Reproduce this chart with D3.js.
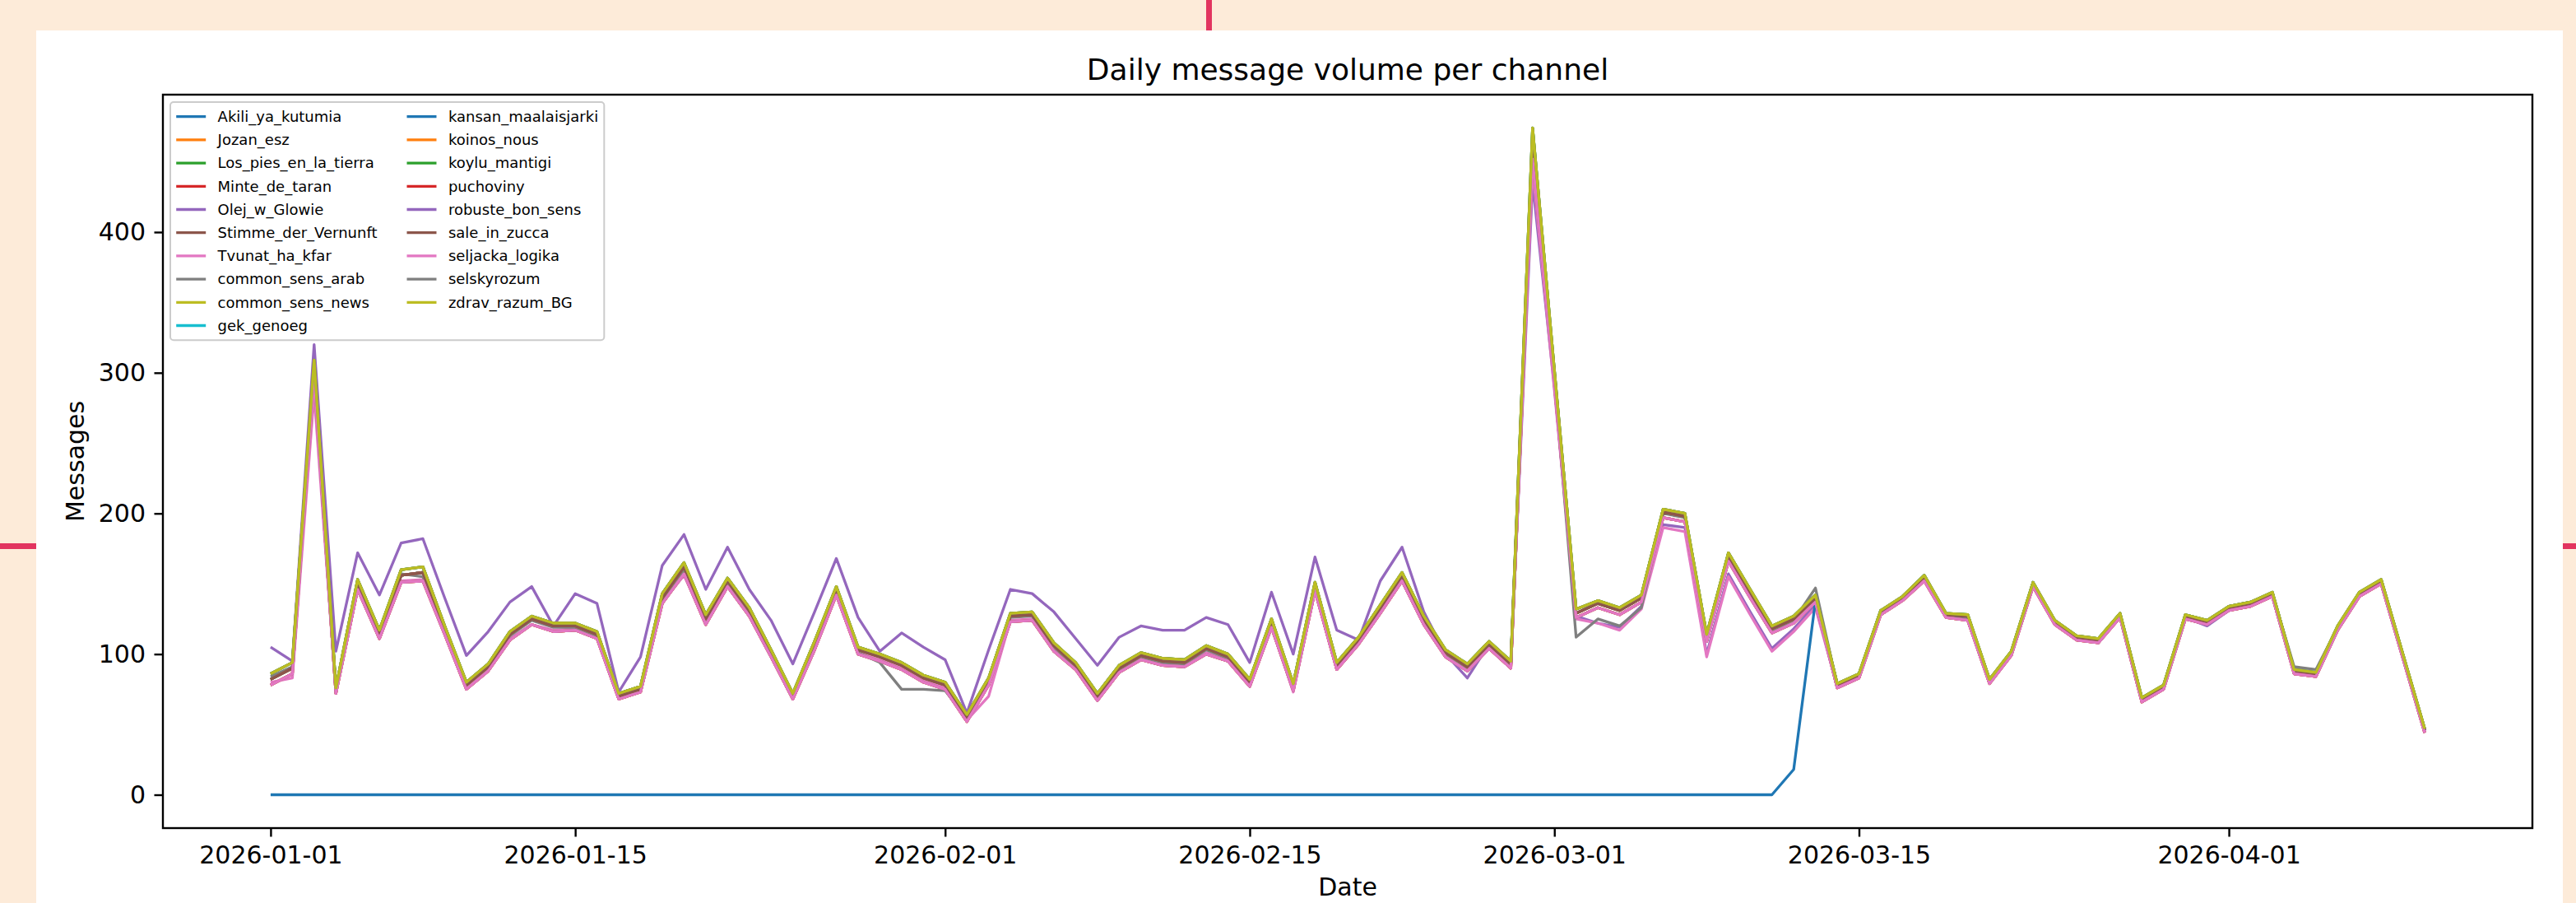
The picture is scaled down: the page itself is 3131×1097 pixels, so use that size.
<!DOCTYPE html>
<meta charset="utf-8">
<script src="https://cdn.jsdelivr.net/npm/d3@7"></script>
<style>
body { margin: 0; background: #fdebd9; }
text { font-family: "DejaVu Sans", sans-serif; fill: #000; }
</style>
<body>
<div id="chart"></div>
<script>
var startDay = "2026-01-01", endDay = "2026-04-10"

var channels = ["Akili_ya_kutumia", "Jozan_esz", "Los_pies_en_la_tierra", "Minte_de_taran", "Olej_w_Glowie",
  "Stimme_der_Vernunft", "Tvunat_ha_kfar", "common_sens_arab", "common_sens_news", "gek_genoeg",
  "kansan_maalaisjarki", "koinos_nous", "koylu_mantigi", "puchoviny", "robuste_bon_sens",
  "sale_in_zucca", "seljacka_logika", "selskyrozum", "zdrav_razum_BG"]

// middle of the bundle
var bandMid = [82, 90, 306, 74, 150, 114, 156, 158, 118, 78,
  91, 114, 125, 120, 120, 114, 70, 75, 140, 162,
  125, 152, 131, 101, 70, 107, 146, 103, 98, 92,
  83, 78, 55, 81, 127, 128, 106, 92, 70, 90,
  99, 95, 94, 104, 98, 80, 123, 77, 149, 92,
  110, 133, 156, 125, 101, 91, 107, 93, 466, 300,
  129, 136, 131, 140, 201, 198, 112, 170, 144, 118,
  125, 140, 78, 85, 130, 140, 155, 128, 127, 81,
  101, 150, 123, 112, 110, 128, 68, 77, 127, 123,
  133, 136, 143, 88, 86, 119, 143, 152, 99, 46]

// upper edge of the bundle
var bandHigh = [86, 94, 309, 76, 153, 117, 160, 162, 120, 80,
  93, 116, 127, 122, 122, 116, 72, 77, 143, 165,
  128, 154, 133, 103, 72, 109, 148, 105, 100, 94,
  85, 80, 57, 83, 129, 130, 108, 94, 72, 92,
  101, 97, 96, 106, 100, 82, 125, 79, 151, 94,
  112, 135, 158, 127, 103, 93, 109, 95, 474, 302,
  132, 138, 133, 142, 203, 200, 114, 172, 146, 120,
  127, 142, 79, 86, 131, 141, 156, 129, 128, 82,
  102, 151, 124, 113, 111, 129, 69, 78, 128, 124,
  134, 137, 144, 89, 87, 120, 144, 153, 100, 47]

// lower edge of the bundle
var bandLow = [78, 86, 296, 72, 146, 111, 151, 152, 114, 75,
  88, 110, 121, 116, 117, 111, 68, 73, 136, 157,
  121, 148, 127, 98, 68, 103, 142, 100, 95, 89,
  80, 75, 52, 78, 123, 124, 102, 89, 67, 87,
  96, 92, 91, 100, 95, 77, 119, 74, 145, 89,
  107, 129, 152, 121, 98, 88, 104, 90, 452, 292,
  126, 133, 128, 137, 197, 194, 109, 166, 140, 115,
  122, 137, 76, 83, 128, 138, 152, 126, 124, 79,
  99, 148, 121, 110, 108, 126, 66, 75, 125, 121,
  131, 134, 141, 86, 84, 117, 141, 150, 97, 44]

var olejVals = [105, 95, 320, 102, 172, 142, 179, 182, 140, 99,
  116, 137, 148, 120, 143, 136, 73, 98, 163, 185,
  146, 176, 146, 124, 93, 130, 168, 126, 102, 115,
  105, 96, 58, 103, 146, 143, 130, 111, 92, 112,
  120, 117, 117, 126, 121, 94, 144, 100, 169, 117,
  110, 152, 176, 130, 100, 83, 107, 93, 435, 290,
  127, 122, 119, 134, 192, 190, 100, 157, 130, 104,
  118, 135, 77, 84, 129, 139, 154, 127, 125, 80,
  100, 150, 122, 111, 108, 127, 67, 76, 126, 120,
  131, 135, 142, 87, 85, 118, 142, 151, 98, 45]

var tvunatVals = [80, 83, 285, 73, 147, 112, 152, 153, 115, 76,
  89, 111, 121, 117, 118, 112, 69, 74, 137, 156,
  122, 148, 128, 99, 69, 104, 143, 101, 96, 90,
  81, 76, 53, 70, 124, 125, 103, 90, 67, 88,
  96, 93, 92, 101, 96, 78, 120, 73, 145, 90,
  108, 130, 152, 122, 98, 88, 105, 91, 445, 288,
  125, 122, 117, 132, 190, 187, 98, 155, 128, 102,
  116, 133, 77, 84, 129, 139, 154, 127, 125, 80,
  100, 149, 122, 111, 109, 127, 67, 76, 126, 122,
  132, 135, 142, 87, 85, 118, 142, 151, 98, 45]

var arabVals = [84, 91, 303, 75, 151, 115, 157, 155, 117, 78,
  90, 113, 124, 119, 119, 113, 71, 76, 139, 160,
  124, 151, 130, 100, 70, 106, 145, 101, 94, 75,
  75, 74, 54, 80, 126, 127, 105, 91, 70, 89,
  98, 94, 93, 103, 97, 79, 122, 76, 148, 91,
  109, 132, 155, 124, 100, 90, 106, 92, 460, 296,
  112, 125, 120, 133, 200, 197, 111, 169, 143, 117,
  124, 147, 78, 85, 130, 140, 155, 128, 126, 81,
  101, 150, 123, 112, 110, 128, 68, 77, 127, 123,
  134, 137, 143, 91, 89, 119, 143, 152, 99, 46]

var kansanVals = [0, 0, 0, 0, 0, 0, 0, 0, 0, 0,
  0, 0, 0, 0, 0, 0, 0, 0, 0, 0,
  0, 0, 0, 0, 0, 0, 0, 0, 0, 0,
  0, 0, 0, 0, 0, 0, 0, 0, 0, 0,
  0, 0, 0, 0, 0, 0, 0, 0, 0, 0,
  0, 0, 0, 0, 0, 0, 0, 0, 0, 0,
  0, 0, 0, 0, 0, 0, 0, 0, 0, 0,
  18, 138, 77, 85, 131, 140, 156, 128, 127, 81,
  101, 151, 123, 112, 110, 128, 68, 77, 127, 123,
  133, 136, 143, 88, 86, 119, 143, 152, 99, 46]

var channelValues = {
  Akili_ya_kutumia: bandMid, Jozan_esz: bandLow, Los_pies_en_la_tierra: bandHigh, Minte_de_taran: bandLow,
  Olej_w_Glowie: olejVals, Stimme_der_Vernunft: bandMid, Tvunat_ha_kfar: tvunatVals,
  common_sens_arab: arabVals, common_sens_news: bandMid, gek_genoeg: bandMid,
  kansan_maalaisjarki: kansanVals, koinos_nous: bandLow, koylu_mantigi: bandHigh, puchoviny: bandMid,
  robuste_bon_sens: bandLow, sale_in_zucca: bandMid, seljacka_logika: bandLow,
  selskyrozum: bandHigh, zdrav_razum_BG: bandHigh
}

var yTickVals = [0, 100, 200, 300, 400]
var xTickLabels = ["2026-01-01", "2026-01-15", "2026-02-01", "2026-02-15", "2026-03-01", "2026-03-15", "2026-04-01"]
var colors = ["#1f77b4", "#ff7f0e", "#2ca02c", "#d62728", "#9467bd", "#8c564b", "#e377c2", "#7f7f7f", "#bcbd22", "#17becf"]

var W = 3131, H = 1097
var plot = {left: 198, right: 3078, top: 115, bottom: 1006}

var parseDay = d3.timeParse("%Y-%m-%d")
var dates = d3.timeDay.range(parseDay(startDay), d3.timeDay.offset(parseDay(endDay), 1))

var series = channels.map(function(name, i){
  return {name: name, color: colors[i % 10],
    points: channelValues[name].map(function(v, j){ return {date: dates[j], value: v} })}
})

var svg = d3.select("#chart").append("svg")
  .attr("width", W)
  .attr("height", H)

// page decoration
svg.append("rect").attr("x", 44).attr("y", 37).attr("width", 3115 - 44).attr("height", H - 37).attr("fill", "#ffffff")
svg.append("rect").attr("x", 1466).attr("y", 0).attr("width", 7).attr("height", 37).attr("fill", "#e2345f")
svg.append("rect").attr("x", 0).attr("y", 660).attr("width", 44).attr("height", 7).attr("fill", "#e2345f")
svg.append("rect").attr("x", 3115).attr("y", 660).attr("width", 16).attr("height", 7).attr("fill", "#e2345f")

var t0 = dates[0].getTime(), t1 = dates[dates.length - 1].getTime()
var xPad = (t1 - t0) * 0.05
var xScale = d3.scaleTime()
  .domain([new Date(t0 - xPad), new Date(t1 + xPad)])
  .range([plot.left, plot.right])

var allVals = d3.merge(series.map(function(s){ return s.points.map(function(p){ return p.value }) }))
var yMin = d3.min(allVals), yMax = d3.max(allVals)
var yPad = (yMax - yMin) * 0.05
var yScale = d3.scaleLinear()
  .domain([yMin - yPad, yMax + yPad])
  .range([plot.bottom, plot.top])

svg.append("clipPath").attr("id", "plotclip")
  .append("rect")
  .attr("x", plot.left).attr("y", plot.top)
  .attr("width", plot.right - plot.left).attr("height", plot.bottom - plot.top)

var line = d3.line()
  .x(function(d){ return xScale(d.date) })
  .y(function(d){ return yScale(d.value) })

svg.append("g")
  .attr("clip-path", "url(#plotclip)")
  .selectAll("path")
  .data(series)
  .enter()
  .append("path")
  .attr("d", function(d){ return line(d.points) })
  .attr("fill", "none")
  .attr("stroke", function(d){ return d.color })
  .attr("stroke-width", 3.3)
  .attr("stroke-linejoin", "round")

// axes
var xAxis = d3.axisBottom(xScale)
  .tickValues(xTickLabels.map(parseDay))
  .tickFormat(d3.timeFormat("%Y-%m-%d"))
  .tickSize(10.5)
  .tickPadding(11)
var yAxis = d3.axisLeft(yScale)
  .tickValues(yTickVals)
  .tickSize(10.5)
  .tickPadding(10.5)

svg.append("g").attr("transform", "translate(0," + plot.bottom + ")").call(xAxis)
svg.append("g").attr("transform", "translate(" + plot.left + ",0)").call(yAxis)
svg.selectAll(".domain").remove()
svg.selectAll(".tick line").attr("stroke", "#000").attr("stroke-width", 2.4)
svg.selectAll(".tick text").style("font-size", "30px").style("font-family", "DejaVu Sans").attr("fill", "#000")

svg.append("rect")
  .attr("x", plot.left).attr("y", plot.top)
  .attr("width", plot.right - plot.left).attr("height", plot.bottom - plot.top)
  .attr("fill", "none")
  .attr("stroke", "#000")
  .attr("stroke-width", 2.4)

var midX = (plot.left + plot.right) / 2
svg.append("text")
  .attr("x", midX).attr("y", 97)
  .attr("text-anchor", "middle")
  .style("font-size", "36px")
  .text("Daily message volume per channel")

svg.append("text")
  .attr("x", midX).attr("y", 1088)
  .attr("text-anchor", "middle")
  .style("font-size", "30px")
  .text("Date")

svg.append("text")
  .attr("transform", "translate(102," + ((plot.top + plot.bottom) / 2) + ") rotate(-90)")
  .attr("text-anchor", "middle")
  .style("font-size", "30px")
  .text("Messages")

// legend
var fs = 18, rowH = 28.2
var legend = svg.append("g")
var legendFrame = legend.append("rect")
var legendItems = legend.selectAll("g.item")
  .data(series)
  .enter()
  .append("g")
  .attr("class", "item")
legendItems.append("line")
  .attr("stroke", function(d){ return d.color })
  .attr("stroke-width", 3.3)
legendItems.append("text")
  .style("font-size", fs + "px")
  .text(function(d){ return d.name })

var perCol = Math.ceil(series.length / 2)
var colW = [0, 0]
legendItems.each(function(d, i){
  var w = d3.select(this).select("text").node().getComputedTextLength()
  var c = Math.floor(i / perCol)
  if (w > colW[c]) colW[c] = w
})
var frameX = plot.left + 0.5 * fs, frameY = plot.top + 0.5 * fs
var pad = 0.4 * fs, handleLen = 2 * fs, textGap = 0.8 * fs, colGap = 2 * fs
var colX = [frameX + pad, frameX + pad + handleLen + textGap + colW[0] + colGap]
var firstRow = frameY + pad + 10.5

legendItems.each(function(d, i){
  var c = Math.floor(i / perCol), r = i % perCol
  var g = d3.select(this)
  var cy = firstRow + r * rowH
  g.select("line").attr("x1", colX[c]).attr("x2", colX[c] + handleLen).attr("y1", cy).attr("y2", cy)
  g.select("text").attr("x", colX[c] + handleLen + textGap).attr("y", cy).attr("dy", "0.35em")
})

legendFrame
  .attr("x", frameX).attr("y", frameY)
  .attr("width", colX[1] + handleLen + textGap + colW[1] + pad - frameX)
  .attr("height", (perCol - 1) * rowH + 2 * (pad + 10.5))
  .attr("rx", 4)
  .attr("fill", "#ffffff").attr("fill-opacity", 0.8)
  .attr("stroke", "#cccccc").attr("stroke-width", 2)
</script>
</body>
